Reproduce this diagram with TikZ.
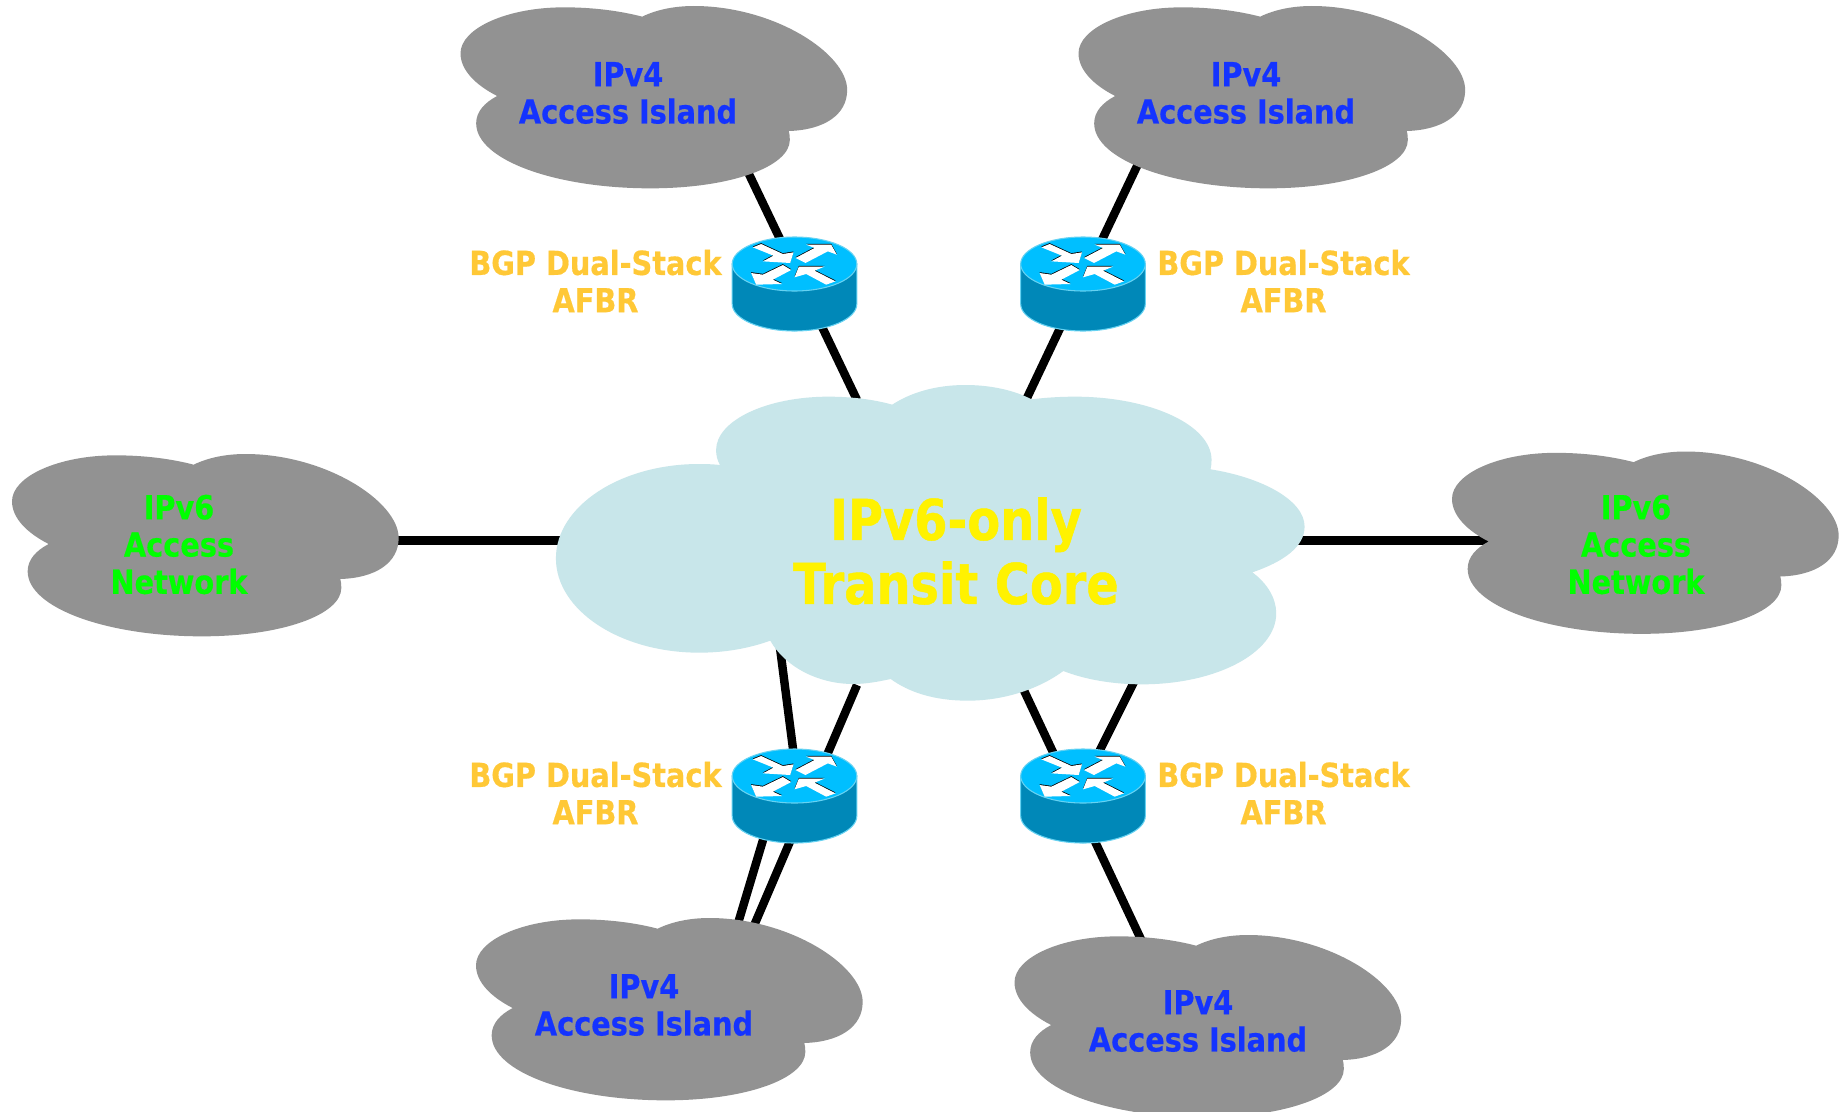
\documentclass[tikz,border=0pt]{standalone}
\usepackage{fontspec}
\newfontfamily\diagfont[FakeStretch=0.87,FakeBold=0.5]{DejaVu Sans}
\newfontfamily\corefont[FakeStretch=0.85,FakeBold=0.8]{DejaVu Sans}
\definecolor{coreblue}{HTML}{C8E6EA}
\definecolor{cloudgrey}{HTML}{929292}
\definecolor{islandblue}{HTML}{1433FF}
\definecolor{afbrorange}{HTML}{FFC836}
\definecolor{rtop}{HTML}{00BFFF}
\definecolor{rside}{HTML}{0088B8}
\definecolor{redge}{HTML}{66D2F2}
\tikzset{
  link/.style={line width=2.4pt,black},
  islandtext/.style={inner sep=0pt,align=center,text=islandblue,font=\diagfont\bfseries\fontsize{9.4}{10.6}\selectfont},
  v6text/.style={inner sep=0pt,align=center,text=green,font=\diagfont\bfseries\fontsize{9.4}{10.6}\selectfont},
  afbrtext/.style={inner sep=0pt,align=center,text=afbrorange,font=\diagfont\bfseries\fontsize{9.4}{10.6}\selectfont},
  coretext/.style={inner sep=0pt,align=center,text=yellow,font=\corefont\bfseries\fontsize{16}{18.2}\selectfont},
  greycloud/.pic={
    \fill[cloudgrey,scale=0.33333] (605,50)
      .. controls (650,28) and (705,18) .. (760,18)
      .. controls (1000,18) and (1220,160) .. (1220,270)
      .. controls (1220,345) and (1150,390) .. (1045,393)
      .. controls (1047,400) and (1048,410) .. (1048,420)
      .. controls (1048,500) and (870,565) .. (630,565)
      .. controls (345,565) and (107,480) .. (107,370)
      .. controls (107,335) and (132,308) .. (170,288)
      .. controls (105,255) and (60,210) .. (60,160)
      .. controls (60,85) and (200,22) .. (370,22)
      .. controls (460,22) and (540,33) .. (605,50) -- cycle;
  },
  routerpic/.pic={
    \fill[rside,draw=redge,line width=0.3pt] (-62.3,0) -- (-62.3,40) arc[start angle=180,end angle=0,x radius=62.3,y radius=27] -- (62.3,0) -- cycle;
    \fill[rtop,draw=redge,line width=0.3pt] (0,0) ellipse[x radius=62.3,y radius=27];
    \begin{scope}[scale=0.33333,shift={(-285,-160)}]
      \foreach \dy/\col in {-2.5/black,0/white}{
        \begin{scope}[shift={(0,\dy)}]
        \fill[\col] (160,110) -- (185,100) -- (250,130) -- (282,125) -- (272,157) -- (190,152) -- (222,135) -- cycle;
        \fill[\col] (288,142) -- (345,112) -- (320,102) -- (395,102) -- (412,132) -- (385,122) -- (318,157) -- cycle;
        \fill[\col] (275,178) -- (250,163) -- (190,192) -- (155,187) -- (170,222) -- (248,220) -- (220,207) -- cycle;
        \fill[\col] (408,212) -- (380,222) -- (320,190) -- (285,200) -- (298,168) -- (375,168) -- (345,180) -- cycle;
        \end{scope}
      }
    \end{scope}
  }
}
\begin{document}
\begin{tikzpicture}[x=0.01cm,y=-0.01cm]
\useasboundingbox (0,0) rectangle (1839,1112);
\fill[white] (0,0) rectangle (1839,1112);
% connector end points
\coordinate (islTL) at (747,170);
\coordinate (islTR) at (1138,164);
\coordinate (coreTL) at (857,400);
\coordinate (coreTR) at (1026,400);
\coordinate (coreL) at (570,540.5);
\coordinate (coreR) at (1290,540.5);
\coordinate (v6L) at (390,540.5);
\coordinate (v6R) at (1490,540.5);
\coordinate (coreBLa) at (779,640);
\coordinate (rtBLa) at (797,780);
\coordinate (rtBLb) at (775,800);
\coordinate (islBLb) at (733,940);
\coordinate (coreBLc) at (857,685);
\coordinate (islBLc) at (750,935);
\coordinate (coreBRa) at (1012,665);
\coordinate (islBR) at (1146,950);
\coordinate (coreBRb) at (1140,670);
\coordinate (rtBRb) at (1095,760);
% connectors
\draw[link] (islTL) -- (coreTL);
\draw[link] (islTR) -- (coreTR);
\draw[link] (v6L) -- (coreL);
\draw[link] (coreR) -- (v6R);
\draw[link] (coreBLa) -- (rtBLa);
\draw[link] (rtBLb) -- (islBLb);
\draw[link] (coreBLc) -- (islBLc);
\draw[link] (coreBRa) -- (islBR);
\draw[link] (coreBRb) -- (rtBRb);
% core cloud
\fill[coreblue,shift={(540,370)},xscale=0.49745,yscale=0.33333] (362,285)
  .. controls (356,270) and (354,255) .. (354,240)
  .. controls (354,152) and (455,80) .. (580,80)
  .. controls (625,80) and (670,88) .. (708,104)
  .. controls (745,68) and (795,45) .. (855,45)
  .. controls (908,45) and (955,62) .. (988,88)
  .. controls (1015,83) and (1045,80) .. (1075,80)
  .. controls (1227,80) and (1350,165) .. (1350,270)
  .. controls (1350,280) and (1349,290) .. (1348,298)
  .. controls (1450,322) and (1537,390) .. (1537,470)
  .. controls (1537,530) and (1495,575) .. (1432,607)
  .. controls (1462,640) and (1480,685) .. (1480,730)
  .. controls (1480,848) and (1360,943) .. (1210,943)
  .. controls (1150,943) and (1095,928) .. (1052,903)
  .. controls (1005,955) and (935,992) .. (860,992)
  .. controls (790,992) and (740,965) .. (705,927)
  .. controls (680,935) and (655,942) .. (630,942)
  .. controls (555,942) and (490,885) .. (463,812)
  .. controls (420,835) and (372,848) .. (320,848)
  .. controls (161,848) and (32,721) .. (32,565)
  .. controls (32,409) and (161,282) .. (320,282)
  .. controls (335,282) and (350,283) .. (362,285) -- cycle;
% grey clouds
\pic (cTL) at (440.5,0) {greycloud};
\pic (cTR) at (1058.5,0) {greycloud};
\pic (cBL) at (456,912) {greycloud};
\pic (cBR) at (994.5,929) {greycloud};
\pic (cL) at (-8,448) {greycloud};
\pic (cR) at (1432,445.5) {greycloud};
% routers
\pic (rTL) at (794.5,264) {routerpic};
\pic (rTR) at (1083,264) {routerpic};
\pic (rBL) at (794.5,776) {routerpic};
\pic (rBR) at (1083,776) {routerpic};
% labels
\node[coretext] (coreLabel) at (956,551) {IPv6-only\\Transit Core};
\node[islandtext] (tTL) at (628,93) {IPv4\\Access Island};
\node[islandtext] (tTR) at (1246,93) {IPv4\\Access Island};
\node[islandtext] (tBL) at (644,1005) {IPv4\\Access Island};
\node[islandtext] (tBR) at (1198,1021) {IPv4\\Access Island};
\node[v6text] (tL) at (179,544.5) {IPv6\\Access\\Network};
\node[v6text] (tR) at (1636,544.5) {IPv6\\Access\\Network};
\node[afbrtext] (aTL) at (595.5,281) {BGP Dual-Stack\\AFBR};
\node[afbrtext] (aTR) at (1283.5,281) {BGP Dual-Stack\\AFBR};
\node[afbrtext] (aBL) at (595.5,793) {BGP Dual-Stack\\AFBR};
\node[afbrtext] (aBR) at (1283.5,793) {BGP Dual-Stack\\AFBR};
\end{tikzpicture}
\end{document}
